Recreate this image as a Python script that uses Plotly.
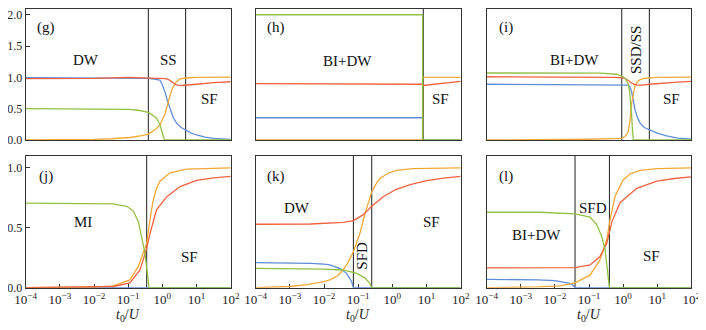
import plotly.graph_objects as go

# ---------------- data: (log10(t0/U), value) ----------------
G_BLUE = [(-4, 0.995), (-2, 0.995), (-1, 0.99), (-0.41, 0.985), (-0.2, 0.97), (-0.07, 0.955),
          (0.0, 0.88), (0.08, 0.76), (0.15, 0.62), (0.23, 0.48), (0.32, 0.36), (0.42, 0.265),
          (0.55, 0.2), (0.68, 0.16), (0.85, 0.11), (1.0, 0.08), (1.25, 0.045), (1.5, 0.027),
          (1.75, 0.015), (2, 0.01)]
G_ORANGE = [(-4, 0.0), (-3, 0.003), (-2, 0.01), (-1.5, 0.02), (-0.95, 0.04), (-0.6, 0.07),
            (-0.41, 0.095), (-0.2, 0.17), (-0.07, 0.24), (0.08, 0.42), (0.15, 0.57), (0.23, 0.72),
            (0.3, 0.83), (0.37, 0.9), (0.45, 0.95), (0.52, 0.975), (0.7, 0.99), (1.0, 1.0), (2, 1.005)]
G_RED = [(-4, 0.98), (-2, 0.985), (-1, 1.0), (-0.41, 0.995), (-0.1, 0.99), (0.1, 0.98), (0.2, 0.96),
         (0.27, 0.94), (0.33, 0.91), (0.37, 0.89), (0.45, 0.875), (0.55, 0.87), (0.7, 0.875),
         (1.0, 0.89), (1.5, 0.915), (2, 0.93)]
G_GREEN = [(-4, 0.5), (-2, 0.5), (-1.5, 0.497), (-1, 0.49), (-0.7, 0.475), (-0.41, 0.44),
           (-0.22, 0.37), (-0.15, 0.33), (-0.07, 0.24), (0.0, 0.12), (0.03, 0.04), (0.06, 0.0), (2, 0.0)]

H_BLUE = [(-4, 0.355), (0.885, 0.355), (0.885, 0.0), (2, 0.0)]
H_ORANGE = [(-4, 0.0), (0.885, 0.0), (0.885, 1.0), (2, 1.0)]
H_RED = [(-4, 0.9), (0, 0.895), (0.88, 0.89), (0.9, 0.87), (1.2, 0.89), (1.6, 0.915), (2, 0.935)]
H_GREEN = [(-4, 2.0), (0.885, 2.0), (0.885, 0.0), (2, 0.0)]

I_BLUE = [(-4, 0.89), (0, 0.885), (0.15, 0.875), (0.2, 0.85), (0.25, 0.77), (0.3, 0.63),
          (0.35, 0.48), (0.42, 0.36), (0.5, 0.27), (0.62, 0.2), (0.77, 0.16), (1.0, 0.11),
          (1.28, 0.065), (1.6, 0.03), (2, 0.012)]
I_ORANGE = [(-4, 0.0), (-2, 0.005), (-1, 0.012), (-0.04, 0.025), (0.08, 0.07), (0.15, 0.13),
            (0.2, 0.3), (0.25, 0.58), (0.3, 0.76), (0.35, 0.875), (0.45, 0.95), (0.6, 0.985),
            (1.0, 1.0), (2, 1.005)]
I_RED = [(-4, 1.01), (-1, 1.01), (-0.2, 1.0), (0.0, 0.99), (0.1, 0.97), (0.2, 0.93), (0.3, 0.895),
         (0.4, 0.875), (0.55, 0.875), (0.77, 0.89), (1.2, 0.91), (1.6, 0.925), (2, 0.935)]
I_GREEN = [(-4, 1.07), (-1.5, 1.07), (-0.68, 1.068), (-0.19, 1.05), (0.0, 1.01), (0.08, 0.97),
           (0.15, 0.9), (0.19, 0.78), (0.22, 0.62), (0.25, 0.4), (0.27, 0.2), (0.30, 0.0), (2, 0.0)]

J_BLUE = [(-4, 0.0), (2, 0.0)]
J_ORANGE = [(-4, 0.0), (-2.5, 0.002), (-2, 0.005), (-1.44, 0.015), (-0.95, 0.065), (-0.7, 0.18),
            (-0.56, 0.29), (-0.46, 0.37), (-0.36, 0.57), (-0.27, 0.73), (-0.17, 0.83), (-0.07, 0.89),
            (0.22, 0.96), (0.71, 0.99), (2, 1.0)]
J_RED = [(-4, 0.0), (-2, 0.003), (-1.44, 0.01), (-0.95, 0.04), (-0.65, 0.15), (-0.46, 0.33),
         (-0.36, 0.455), (-0.17, 0.65), (0.13, 0.76), (0.52, 0.845), (1.0, 0.896), (1.5, 0.918), (2, 0.93)]
J_GREEN = [(-4, 0.707), (-2.4, 0.706), (-1.44, 0.7), (-1.04, 0.68), (-0.85, 0.64), (-0.7, 0.55),
           (-0.61, 0.44), (-0.51, 0.29), (-0.44, 0.12), (-0.39, 0.0), (2, 0.0)]

K_BLUE = [(-4, 0.21), (-3, 0.208), (-2.4, 0.204), (-2, 0.197), (-1.83, 0.19), (-1.53, 0.16),
          (-1.34, 0.12), (-1.19, 0.05), (-1.14, 0.0), (2, 0.0)]
K_ORANGE = [(-4, 0.0), (-3.5, 0.003), (-3, 0.01), (-2.5, 0.025), (-2, 0.05), (-1.83, 0.065),
            (-1.6, 0.1), (-1.44, 0.15), (-1.3, 0.21), (-1.14, 0.3), (-0.95, 0.455), (-0.8, 0.62),
            (-0.605, 0.8), (-0.45, 0.88), (-0.36, 0.915), (-0.1, 0.96), (0.13, 0.98), (0.6, 0.995), (2, 1.0)]
K_RED = [(-4, 0.53), (-2.4, 0.532), (-1.44, 0.545), (-1.14, 0.56), (-0.85, 0.61), (-0.605, 0.68),
         (-0.27, 0.76), (0.1, 0.82), (0.52, 0.86), (1.0, 0.895), (1.5, 0.915), (2, 0.93)]
K_GREEN = [(-4, 0.162), (-2.5, 0.16), (-2, 0.155), (-1.44, 0.148), (-1.04, 0.12), (-0.8, 0.08),
           (-0.66, 0.037), (-0.605, 0.0), (2, 0.0)]

L_BLUE = [(-4, 0.07), (-3, 0.069), (-2.5, 0.066), (-2, 0.059), (-1.8, 0.05), (-1.56, 0.037),
          (-1.47, 0.02), (-1.41, 0.0), (2, 0.0)]
L_ORANGE = [(-4, 0.0), (-3, 0.003), (-2.5, 0.007), (-1.85, 0.015), (-1.41, 0.04), (-0.97, 0.105),
            (-0.68, 0.23), (-0.48, 0.4), (-0.38, 0.57), (-0.24, 0.76), (0.0, 0.9), (0.2, 0.95),
            (0.5, 0.98), (1.0, 0.995), (2, 1.0)]
L_RED = [(-4, 0.165), (-2.44, 0.165), (-1.41, 0.168), (-0.97, 0.19), (-0.68, 0.26), (-0.48, 0.37),
         (-0.33, 0.55), (-0.09, 0.71), (0.4, 0.83), (0.99, 0.89), (1.5, 0.912), (2, 0.925)]
L_GREEN = [(-4, 0.63), (-2.44, 0.63), (-1.41, 0.617), (-0.97, 0.59), (-0.77, 0.525), (-0.63, 0.43),
           (-0.53, 0.32), (-0.45, 0.15), (-0.4, 0.0), (2, 0.0)]

# phase boundaries, log10(t0/U)
BOUND_G = [-0.41, 0.68]
BOUND_H = [0.905]
BOUND_I = [-0.04, 0.77]
BOUND_J = [-0.46]
BOUND_K = [-1.14, -0.605]
BOUND_L = [-1.41, -0.40]

XTICK_EXP = [-4, -3, -2, -1, 0, 1, 2]
XTICK_TEXT = ["10<sup>−4</sup>", "10<sup>−3</sup>", "10<sup>−2</sup>", "10<sup>−1</sup>",
              "10<sup>0</sup>", "10<sup>1</sup>", "10<sup>2</sup>"]
YTICK_TOP = [0, 0.5, 1.0, 1.5, 2.0]
YTICK_TOP_TEXT = ["0.0", "0.5", "1.0", "1.5", "2.0"]
YTICK_BOT = [0, 0.5, 1.0]
YTICK_BOT_TEXT = ["0.0", "0.5", "1.0"]
Y_RANGE_TOP = [0, 2.1]
Y_RANGE_BOT = [0, 1.1]

# ---------------- styling ----------------
# the page body has an 8px margin, so the figure is drawn 8px in from the window corner
OFF = 8
W, H = 706 - OFF, 330 - OFF
FONT = "Liberation Serif"
C_BLUE, C_ORANGE, C_RED, C_GREEN = "#5F8ED6", "#F2A836", "#F0623E", "#92C043"
FRAME = "#333333"


def fx(px):
    return (px - OFF) / W


def fy(py):
    return min(1.0, max(0.0, 1 - (py - OFF) / H))


PANELS = [
    dict(curves=[G_BLUE, G_ORANGE, G_RED, G_GREEN], bounds=BOUND_G, px=(25.7, 230.7), py=(8.5, 140), top=True),
    dict(curves=[H_BLUE, H_ORANGE, H_RED, H_GREEN], bounds=BOUND_H, px=(255.7, 460.7), py=(8.5, 140), top=True),
    dict(curves=[I_BLUE, I_ORANGE, I_RED, I_GREEN], bounds=BOUND_I, px=(486.7, 691.3), py=(8.5, 140), top=True),
    dict(curves=[J_BLUE, J_ORANGE, J_RED, J_GREEN], bounds=BOUND_J, px=(25.7, 230.7), py=(156, 287.7), top=False),
    dict(curves=[K_BLUE, K_ORANGE, K_RED, K_GREEN], bounds=BOUND_K, px=(255.7, 460.7), py=(156, 287.7), top=False),
    dict(curves=[L_BLUE, L_ORANGE, L_RED, L_GREEN], bounds=BOUND_L, px=(486.7, 691.3), py=(156, 287.7), top=False),
]
COLORS = [C_BLUE, C_ORANGE, C_RED, C_GREEN]

fig = go.Figure()
layout = dict(width=W, height=H, margin=dict(l=0, r=0, t=0, b=0, autoexpand=False),
              paper_bgcolor="white", plot_bgcolor="white", showlegend=False,
              font=dict(family=FONT, color="#222", size=12))

for i, p in enumerate(PANELS):
    n = i + 1
    xa = "x" if n == 1 else f"x{n}"
    ya = "y" if n == 1 else f"y{n}"
    yr = Y_RANGE_TOP if p["top"] else Y_RANGE_BOT
    for b in p["bounds"]:
        fig.add_trace(go.Scatter(x=[10 ** b, 10 ** b], y=[yr[0], yr[1]], mode="lines",
                                 line=dict(color=FRAME, width=1.1), xaxis=xa, yaxis=ya,
                                 hoverinfo="skip"))
    for curve, col in zip(p["curves"], COLORS):
        fig.add_trace(go.Scatter(x=[10 ** e for e, _ in curve], y=[v for _, v in curve],
                                 mode="lines", line=dict(color=col, width=1.3),
                                 xaxis=xa, yaxis=ya))
    xdom = [fx(p["px"][0]), fx(p["px"][1])]
    ydom = [fy(p["py"][1]), fy(p["py"][0])]
    xkey = "xaxis" if n == 1 else f"xaxis{n}"
    ykey = "yaxis" if n == 1 else f"yaxis{n}"
    xaxis = dict(domain=xdom, anchor=ya, type="log", range=[-4, 2], showgrid=False, zeroline=False,
                 showline=True, mirror=True, linecolor=FRAME, linewidth=1, layer="below traces",
                 automargin=False, ticklabeloverflow="allow")
    if p["top"]:
        xaxis.update(showticklabels=False, ticks="")
    else:
        xaxis.update(tickvals=[10 ** e for e in XTICK_EXP], ticktext=XTICK_TEXT, ticks="inside",
                     ticklen=4, tickcolor=FRAME, tickfont=dict(size=13, family=FONT, color="#222"))
    yaxis = dict(domain=ydom, anchor=xa, range=yr, showgrid=False, zeroline=False,
                 showline=True, mirror=True, linecolor=FRAME, linewidth=1, layer="below traces",
                 automargin=False, ticklabeloverflow="allow")
    if n in (1, 4):
        tv, tt = (YTICK_TOP, YTICK_TOP_TEXT) if p["top"] else (YTICK_BOT, YTICK_BOT_TEXT)
        yaxis.update(tickvals=tv, ticktext=tt, ticks="inside", ticklen=4, tickcolor=FRAME,
                     tickfont=dict(size=12, family=FONT, color="#222"))
    else:
        yaxis.update(showticklabels=False, ticks="")
    layout[xkey] = xaxis
    layout[ykey] = yaxis

# text labels (pixel positions in the window)
LABELS = [
    ("(g)", 45.7, 27.7, 0), ("DW", 86, 60, 0), ("SS", 168.3, 60, 0), ("SF", 209.3, 99.3, 0),
    ("(h)", 275.7, 27.7, 0), ("BI+DW", 347.3, 60.7, 0), ("SF", 440, 99.3, 0),
    ("(i)", 506, 27.7, 0), ("BI+DW", 574.3, 60, 0), ("SSD/SS", 636, 50, -90), ("SF", 671, 99.3, 0),
    ("(j)", 45.7, 176.7, 0), ("MI", 83.3, 221.7, 0), ("SF", 190, 256.7, 0),
    ("(k)", 275.7, 176, 0), ("DW", 296.7, 208.3, 0), ("SFD", 361.7, 256, -90), ("SF", 431.7, 221.7, 0),
    ("(l)", 506, 176.7, 0), ("BI+DW", 536, 235, 0), ("SFD", 592.7, 208.3, 0), ("SF", 651, 256, 0),
]
annotations = []
for txt, x, y, ang in LABELS:
    annotations.append(dict(text=txt, x=fx(x), y=fy(y), xref="paper", yref="paper",
                            showarrow=False, textangle=ang, xanchor="center", yanchor="middle",
                            font=dict(family=FONT, size=15, color="#111")))
# axis titles under the bottom row
for cx in (128.2, 358.2, 589.0):
    annotations.append(dict(text="<i>t</i><sub>0</sub>/<i>U</i>", x=fx(cx), y=fy(315), xref="paper",
                            yref="paper", showarrow=False, xanchor="center", yanchor="middle",
                            font=dict(family=FONT, size=14, color="#222")))
layout["annotations"] = annotations

fig.update_layout(**layout)
fig.write_html("out.html")
